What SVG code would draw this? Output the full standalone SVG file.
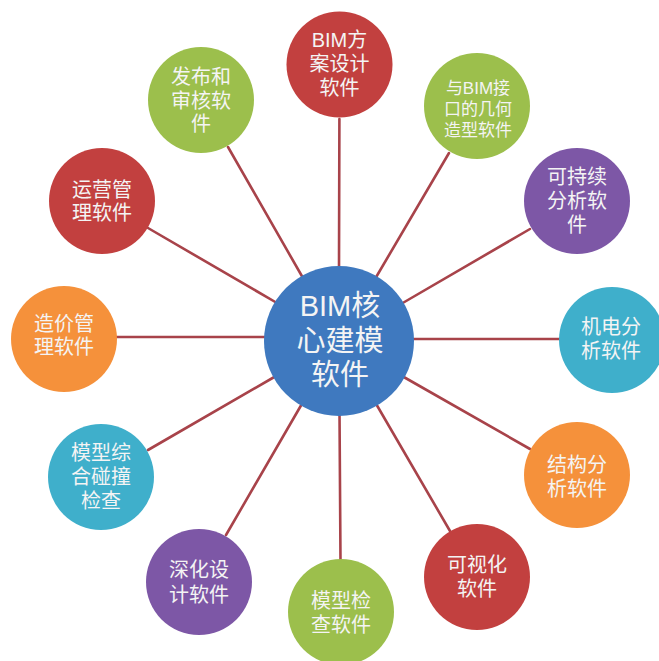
<svg xmlns="http://www.w3.org/2000/svg" width="659" height="661" viewBox="0 0 659 661">
<style>
.bg{fill:#ffffff}
.conn line{stroke:#a8434a;stroke-width:2.6;stroke-linecap:round}
.node circle{stroke:none}
.red{fill:#c2403f}
.green{fill:#9cbf4c}
.purple{fill:#7d57a6}
.teal{fill:#3fafcb}
.orange{fill:#f5913b}
.blue{fill:#3f79bf}
text{font-family:"Liberation Sans","Noto Sans CJK SC",sans-serif;fill:#f4f4f4;text-anchor:middle;dominant-baseline:central}
.t{font-size:20px}
.ts{font-size:17px}
.tc{font-size:29px}
</style>
<rect class="bg" x="0" y="0" width="659" height="661"/>
<g id="connectors" class="conn">
<line x1="339" y1="270" x2="339.4" y2="119"/>
<line x1="375" y1="279" x2="449" y2="153"/>
<line x1="401" y1="304" x2="530" y2="229"/>
<line x1="410" y1="339" x2="561" y2="339"/>
<line x1="402" y1="376" x2="530" y2="449"/>
<line x1="375" y1="402" x2="450" y2="531"/>
<line x1="339.5" y1="412" x2="340.5" y2="561"/>
<line x1="303" y1="402" x2="226" y2="535"/>
<line x1="276" y1="376" x2="148" y2="450"/>
<line x1="268" y1="337" x2="116" y2="337"/>
<line x1="277" y1="303" x2="148" y2="228"/>
<line x1="303" y1="278" x2="228" y2="147"/>
</g>
<g id="n-bim-design" class="node"><circle class="red" cx="339.5" cy="64.5" r="53"/><text class="t" y="40"><tspan x="339.5">BIM方</tspan><tspan x="339.5" dy="24">案设计</tspan><tspan x="339.5" dy="24">软件</tspan></text></g>
<g id="n-geometry" class="node"><circle class="green" cx="477" cy="106" r="53"/><text class="ts" y="88"><tspan x="478">与BIM接</tspan><tspan x="478" dy="21">口的几何</tspan><tspan x="478" dy="21">造型软件</tspan></text></g>
<g id="n-sustain" class="node"><circle class="purple" cx="577" cy="201" r="53"/><text class="t" y="177"><tspan x="577">可持续</tspan><tspan x="577" dy="24">分析软</tspan><tspan x="577" dy="24">件</tspan></text></g>
<g id="n-mep" class="node"><circle class="teal" cx="612" cy="340" r="53"/><text class="t" y="327"><tspan x="611">机电分</tspan><tspan x="611" dy="24">析软件</tspan></text></g>
<g id="n-struct" class="node"><circle class="orange" cx="577" cy="475" r="53"/><text class="t" y="465"><tspan x="577">结构分</tspan><tspan x="577" dy="24">析软件</tspan></text></g>
<g id="n-visual" class="node"><circle class="red" cx="477" cy="577" r="53"/><text class="t" y="565"><tspan x="477">可视化</tspan><tspan x="477" dy="24">软件</tspan></text></g>
<g id="n-check" class="node"><circle class="green" cx="341" cy="612" r="53"/><text class="t" y="601"><tspan x="341">模型检</tspan><tspan x="341" dy="24">查软件</tspan></text></g>
<g id="n-detail" class="node"><circle class="purple" cx="199" cy="582" r="53"/><text class="t" y="570"><tspan x="199">深化设</tspan><tspan x="199" dy="25">计软件</tspan></text></g>
<g id="n-clash" class="node"><circle class="teal" cx="101" cy="477" r="53"/><text class="t" y="453"><tspan x="101">模型综</tspan><tspan x="101" dy="24">合碰撞</tspan><tspan x="101" dy="24">检查</tspan></text></g>
<g id="n-cost" class="node"><circle class="orange" cx="64" cy="339" r="53"/><text class="t" y="324"><tspan x="64">造价管</tspan><tspan x="64" dy="23">理软件</tspan></text></g>
<g id="n-ops" class="node"><circle class="red" cx="102" cy="201" r="53"/><text class="t" y="190"><tspan x="102">运营管</tspan><tspan x="102" dy="23">理软件</tspan></text></g>
<g id="n-publish" class="node"><circle class="green" cx="201" cy="100" r="53"/><text class="t" y="77"><tspan x="201">发布和</tspan><tspan x="201" dy="24">审核软</tspan><tspan x="201" dy="23">件</tspan></text></g>
<g id="n-core" class="node"><circle class="blue" cx="339" cy="341" r="75"/><text class="tc" y="306"><tspan x="340">BIM核</tspan><tspan x="340" dy="35">心建模</tspan><tspan x="340" dy="34">软件</tspan></text></g>
</svg>
